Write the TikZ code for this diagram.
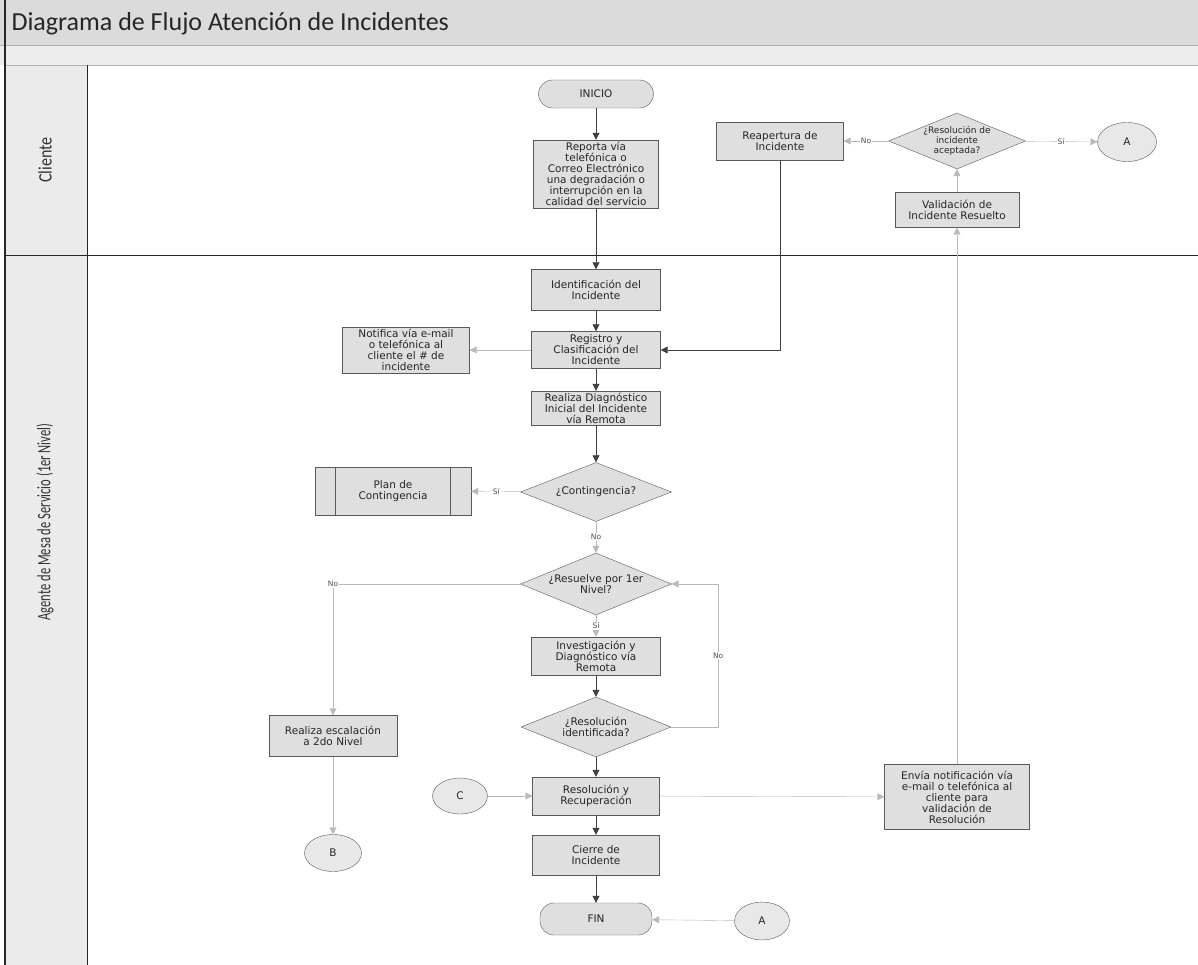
\documentclass[tikz,border=0pt]{standalone}
\usepackage{fontspec}
\setmainfont{Carlito}
\newfontfamily\boxf{DejaVu Sans}
\usetikzlibrary{shapes.geometric,arrows.meta,calc}
\begin{document}
\begin{tikzpicture}[x=1pt,y=-1pt,
  boxfont/.style={font=\boxf\fontsize{10.5}{11}\selectfont, text=black!85},
  proc/.style={draw=gray!70!black, fill=gray!25, align=center, inner sep=1pt, boxfont},
  term/.style={draw=gray!70!black, fill=gray!25, rounded corners=14pt, align=center, inner sep=1pt, boxfont},
  dec/.style={draw=gray!70!black, fill=gray!25, diamond, inner sep=0pt},
  conn/.style={draw=gray!70!black, fill=gray!18, ellipse, inner sep=0pt, boxfont},
  dtext/.style={align=center, boxfont},
  flow/.style={draw=gray!50!black, thick, -{Triangle[length=7pt,width=7pt]}},
  lflow/.style={draw=gray!55, -{Triangle[length=7pt,width=7pt]}},
  lbl/.style={font=\boxf\fontsize{7.5}{8}\selectfont, fill=white, inner sep=1pt, text=gray!60!black},
  lane/.style={font=\fontsize{19}{21}\selectfont, text=black!80}
]
\useasboundingbox (0,0) rectangle (1198,965);
% frame
\fill[gray!28] (0,0) rectangle (1198,45);
\fill[gray!14] (0,45) rectangle (1198,65);
\draw[gray!60] (0,45) -- (1198,45);
\fill[gray!16] (5,65) rectangle (87,965);
\draw[gray!60] (5,65) -- (1198,65);
\draw[thick, black!85] (5,255) -- (1198,255);
\draw[very thick, black!85] (5,0) -- (5,965);
\draw[thick, black!85] (87,65) -- (87,965);
\node[anchor=west, font=\fontsize{26}{28}\selectfont, text=black!85] (title) at (8,24) {Diagrama de Flujo Atención de Incidentes};
\node[lane, rotate=90, xscale=0.85] (lcli) at (45,160) {Cliente};
\node[lane, rotate=90, xscale=0.66] (lage) at (45,522) {Agente de Mesa de Servicio (1er Nivel)};

% Cliente lane
\node[term, minimum width=115, minimum height=28] (inicio) at (596,94) {INICIO};
\node[proc, minimum width=125, minimum height=68] (reporta) at (596,174) {Reporta vía\\telefónica o\\Correo Electrónico\\una degradación o\\interrupción en la\\calidad del servicio};
\node[proc, minimum width=127, minimum height=38] (reap) at (780,141) {Reapertura de\\Incidente};
\node[dec, minimum width=137, minimum height=56] (acept) at (957,141) {};
\node[dtext, font=\boxf\fontsize{9}{10}\selectfont] (acepttxt) at (acept.center) {¿Resolución de\\incidente\\aceptada?};
\node[conn, minimum width=59, minimum height=39] (A1) at (1127,142) {A};
\node[proc, minimum width=124, minimum height=35] (valid) at (957,210) {Validación de\\Incidente Resuelto};

% Agente lane
\node[proc, minimum width=129, minimum height=41] (ident) at (596,290) {Identificación del\\Incidente};
\node[proc, minimum width=129, minimum height=37] (registro) at (596,350) {Registro y\\Clasificación del\\Incidente};
\node[proc, minimum width=127, minimum height=46] (notifica) at (406,350) {Notifica vía e-mail\\o telefónica al\\cliente el \# de\\incidente};
\node[proc, minimum width=129, minimum height=34] (diag) at (596,408) {Realiza Diagnóstico\\Inicial del Incidente\\vía Remota};
\node[dec, minimum width=151, minimum height=59] (cont) at (596,492) {};
\node[dtext] (conttxt) at (cont.center) {¿Contingencia?};
\node[proc, minimum width=156, minimum height=48] (plan) at (393,491) {Plan de\\Contingencia};
\draw[gray!70!black] ($(plan.north west)+(20,0)$) -- ($(plan.south west)+(20,0)$);
\draw[gray!70!black] ($(plan.north east)+(-21,0)$) -- ($(plan.south east)+(-21,0)$);
\node[dec, minimum width=151, minimum height=62] (resuelve) at (596,584) {};
\node[dtext] (resuelvetxt) at (resuelve.center) {¿Resuelve por 1er\\Nivel?};
\node[proc, minimum width=129, minimum height=38] (invest) at (596,656) {Investigación y\\Diagnóstico vía\\Remota};
\node[dec, minimum width=150, minimum height=60] (resid) at (596,727) {};
\node[dtext] (residtxt) at (resid.center) {¿Resolución\\identificada?};
\node[proc, minimum width=128, minimum height=41] (escal) at (333,736) {Realiza escalación\\a 2do Nivel};
\node[conn, minimum width=57, minimum height=37] (B) at (333,853) {B};
\node[proc, minimum width=127, minimum height=38] (resrec) at (596,796) {Resolución y\\Recuperación};
\node[conn, minimum width=55, minimum height=36] (C) at (460,796) {C};
\node[proc, minimum width=145, minimum height=65] (envia) at (957,797) {Envía notificación vía\\e-mail o telefónica al\\cliente para\\validación de\\Resolución};
\node[proc, minimum width=127, minimum height=40] (cierre) at (596,855) {Cierre de\\Incidente};
\node[term, minimum width=112, minimum height=32] (fin) at (596,919) {FIN};
\node[conn, minimum width=55, minimum height=38] (A2) at (762,921) {A};

% connectors
\draw[flow] (inicio) -- (reporta);
\draw[flow] (reporta) -- (ident);
\draw[flow] (ident) -- (registro);
\draw[lflow] (registro) -- (notifica);
\draw[flow] (registro) -- (diag);
\draw[flow] (diag) -- (cont);
\draw[lflow] (cont) -- node[lbl] {Sí} (plan);
\draw[lflow] (cont) -- node[lbl] {No} (resuelve);
\draw[lflow] (resuelve.west) -| node[lbl] {No} (escal.north);
\draw[lflow] (resuelve) -- node[lbl] {Sí} (invest);
\draw[flow] (invest) -- (resid);
\draw[lflow] (resid.east) -- ++(47,0) |- node[lbl, pos=0.25] {No} (resuelve.east);
\draw[flow] (resid) -- (resrec);
\draw[lflow] (C) -- (resrec);
\draw[lflow] (resrec) -- (envia);
\draw[lflow] (envia) -- (valid);
\draw[lflow] (valid) -- (acept);
\draw[lflow] (acept) -- node[lbl] {No} (reap);
\draw[lflow] (acept) -- node[lbl] {Sí} (A1);
\draw[flow] (reap.south) |- (registro.east);
\draw[lflow] (escal) -- (B);
\draw[flow] (resrec) -- (cierre);
\draw[flow] (cierre) -- (fin);
\draw[lflow] (A2) -- (fin);
\end{tikzpicture}
\end{document}
